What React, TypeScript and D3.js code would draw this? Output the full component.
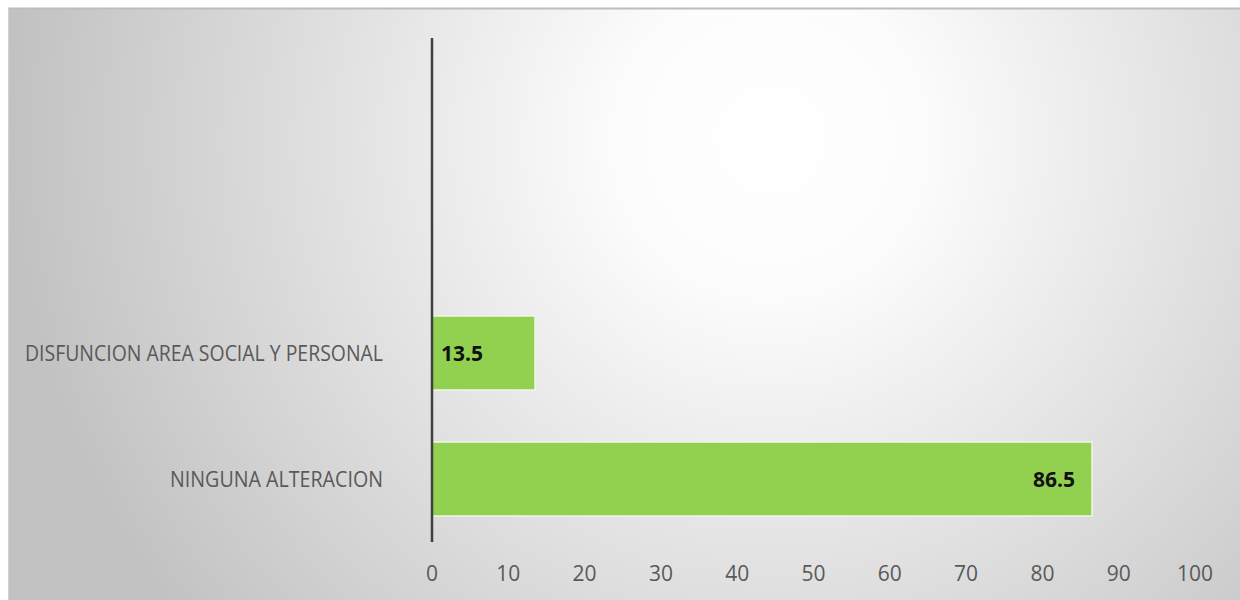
import React from "react";
import * as d3 from "d3";

const categories = ["DISFUNCION AREA SOCIAL Y PERSONAL", "NINGUNA ALTERACION"];
const values = [13.5, 86.5];
const xTicks = [0, 10, 20, 30, 40, 50, 60, 70, 80, 90, 100];
const emptySlots = ["(vacío 1)", "(vacío 2)"];

export default function App() {
  const W = 1240;
  const H = 600;
  const x = d3.scaleLinear().domain([0, 100]).range([432, 1195]);
  const y = d3
    .scaleBand<string>()
    .domain([...emptySlots, ...categories])
    .range([38, 542])
    .paddingInner(0.413)
    .paddingOuter(0.2065);
  const labelInset = [52, 17];
  const catWidths = [358, 213];
  const font = "'Open Sans', 'Liberation Sans', sans-serif";

  return (
    <svg
      width={W}
      height={H}
      style={{ position: "absolute", left: 0, top: 0 }}
      xmlns="http://www.w3.org/2000/svg"
    >
      <defs>
        <radialGradient id="bg" gradientUnits="userSpaceOnUse" cx={770} cy={140} r={760} fx={770} fy={140}>
          <stop offset="0" stopColor="#ffffff" />
          <stop offset="0.2" stopColor="#fcfcfc" />
          <stop offset="1" stopColor="#c2c2c2" />
        </radialGradient>
      </defs>
      <rect x={0} y={0} width={W} height={H} fill="#ffffff" />
      <rect x={8} y={8} width={W - 8} height={H - 8} fill="url(#bg)" />
      <line x1={8} x2={W} y1={8.5} y2={8.5} stroke="#bdbdbd" strokeWidth={2} />
      <line x1={8.5} x2={8.5} y1={8} y2={H} stroke="#d0d0d0" strokeWidth={1} />

      {categories.map((c, i) => {
        const by = y(c)!;
        const bh = y.bandwidth();
        return (
          <g key={c}>
            <rect
              x={x(0)}
              y={by}
              width={x(values[i]) - x(0)}
              height={bh}
              fill="#92d050"
              stroke="#eef7e4"
              strokeWidth={1.5}
            />
            <text
              x={x(values[i]) - labelInset[i]}
              y={by + bh / 2}
              dy="0.36em"
              textAnchor="end"
              fontFamily={font}
              fontWeight={700}
              fontSize={21}
              fill="#111111"
            >
              {values[i].toFixed(1)}
            </text>
            <text
              x={383}
              y={by + bh / 2}
              dy="0.36em"
              textAnchor="end"
              fontFamily={font}
              fontSize={21}
              fill="#595959"
              textLength={catWidths[i]}
              lengthAdjust="spacingAndGlyphs"
            >
              {c}
            </text>
          </g>
        );
      })}

      <line
        x1={x(0)}
        x2={x(0)}
        y1={y.range()[0]}
        y2={y.range()[1]}
        stroke="#404040"
        strokeWidth={2.5}
      />

      {xTicks.map((t) => (
        <text
          key={t}
          x={x(t)}
          y={581}
          textAnchor="middle"
          fontFamily={font}
          fontSize={21}
          fill="#595959"
        >
          {t}
        </text>
      ))}
    </svg>
  );
}
